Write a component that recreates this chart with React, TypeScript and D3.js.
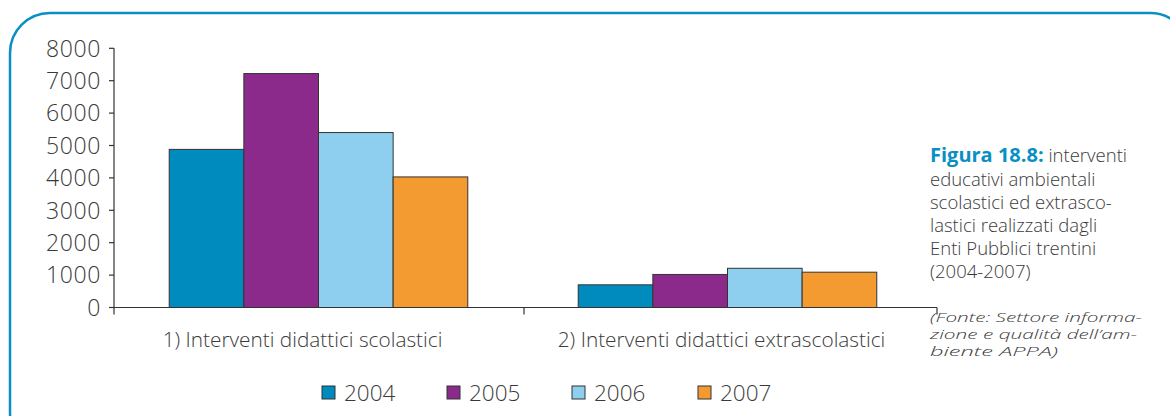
import React from "react";
import * as d3 from "d3";

const categories = ["1) Interventi didattici scolastici", "2) Interventi didattici extrascolastici"];
const years = ["2004", "2005", "2006", "2007"];
const values2004 = [4880, 700];
const values2005 = [7220, 1020];
const values2006 = [5400, 1210];
const values2007 = [4030, 1090];
const yTicks = [0, 1000, 2000, 3000, 4000, 5000, 6000, 7000, 8000];
const colors = ["#008bbf", "#8c2a8c", "#8ecff0", "#f39a31"];
const captionLines = ["educativi ambientali", "scolastici ed extrasco-", "lastici realizzati dagli", "Enti Pubblici trentini", "(2004-2007)"];
const sourceLines = ["(Fonte: Settore informa-", "zione e qualità dell’am-", "biente APPA)"];

export default function App() {
  const W = 1170, H = 416;
  const left = 114, axisRight = 937, top = 48.3, bottom = 307.5;
  const series = [values2004, values2005, values2006, values2007];
  const x0 = d3.scaleBand().domain(categories).range([left, 932]).paddingInner(0.27).paddingOuter(0.135);
  const x1 = d3.scaleBand().domain(years).range([0, x0.bandwidth()]);
  const y = d3.scaleLinear().domain([0, 8000]).range([bottom, top]);
  const font = "'Open Sans', 'Noto Sans', sans-serif";
  const textColor = "#3a3a3a";
  const legendX = [322, 447, 572, 698];
  const labelShift = [-16, -6];
  const sourceLen = [212, 207, 128];
  return (
    <svg width={W} height={H} style={{ position: "absolute", left: 0, top: 0 }} fontFamily={font} fontWeight={300}>
      <rect x={0} y={0} width={W} height={H} fill="#fff" />
      <rect x={10} y={13} width={1180} height={440} rx={40} ry={40} fill="none" stroke="#0a8fc4" strokeWidth={2.5} />
      {/* y axis */}
      <line x1={left} x2={left} y1={top} y2={bottom} stroke="#333" strokeWidth={1.2} />
      {yTicks.map((t) => (
        <g key={t}>
          <line x1={left - 5} x2={left} y1={y(t)} y2={y(t)} stroke="#333" strokeWidth={1.2} />
          <text x={101} y={y(t)} dy="0.36em" textAnchor="end" fontSize={23} letterSpacing={0.6} fill={textColor}>{t}</text>
        </g>
      ))}
      {/* bars */}
      {categories.map((c, ci) => (
        <g key={c}>
          {years.map((yr, si) => (
            <rect
              key={yr}
              x={(x0(c) as number) + (x1(yr) as number)}
              y={y(series[si][ci])}
              width={x1.bandwidth()}
              height={bottom - y(series[si][ci])}
              fill={colors[si]}
              stroke="#333"
              strokeWidth={1}
            />
          ))}
          <text x={(x0(c) as number) + x0.bandwidth() / 2 + labelShift[ci]} y={340} dy="0.35em" textAnchor="middle" fontSize={20.8} fill={textColor}>{c}</text>
        </g>
      ))}
      {/* x axis */}
      <line x1={left} x2={axisRight} y1={bottom} y2={bottom} stroke="#333" strokeWidth={1.2} />
      {[left, 524, axisRight].map((xx, i) => (
        <line key={i} x1={xx} x2={xx} y1={bottom} y2={bottom + 7} stroke="#333" strokeWidth={1.2} />
      ))}
      {/* legend */}
      {years.map((yr, i) => (
        <g key={yr}>
          <rect x={legendX[i]} y={386} width={13} height={13} fill={colors[i]} stroke="#333" strokeWidth={1} />
          <text x={legendX[i] + 22} y={393} dy="0.36em" fontSize={22.5} fill={textColor}>{yr}</text>
        </g>
      ))}
      {/* caption */}
      <text x={930} y={162} fontSize={18.5} fill={textColor}>
        <tspan fontWeight="bold" fontSize={20} fill="#0a8fc4">Figura 18.8:</tspan>
        <tspan> interventi</tspan>
      </text>
      {captionLines.map((l, i) => (
        <text key={i} x={930} y={185.5 + i * 23} fontSize={18.5} fill={textColor}>{l}</text>
      ))}
      {sourceLines.map((l, i) => (
        <text key={i} x={930} y={322 + i * 17} fontSize={13.5} fontStyle="italic" fill={textColor} textLength={sourceLen[i]} lengthAdjust="spacingAndGlyphs">{l}</text>
      ))}
    </svg>
  );
}
